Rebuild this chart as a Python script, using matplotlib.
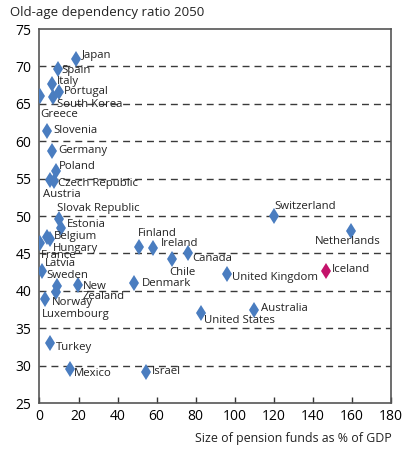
import matplotlib.pyplot as plt

plt.rcParams['font.family'] = ['Open Sans', 'DejaVu Sans']

countries = ['Japan', 'Spain', 'Italy', 'Portugal', 'South Korea', 'Greece', 'Slovenia',
             'Germany', 'Poland', 'Czech Republic', 'Austria', 'Slovak Republic', 'Estonia',
             'Belgium', 'Hungary', 'France', 'Latvia', 'Sweden', 'Norway', 'Luxembourg',
             'New\nZealand', 'Denmark', 'Finland', 'Ireland', 'Canada', 'Chile', 'Switzerland',
             'Netherlands', 'United Kingdom', 'Iceland', 'Australia', 'United States',
             'Turkey', 'Mexico', 'Israel']
pension = [18.9, 9.3, 6.4, 10.0, 6.9, 0.3, 4.0,
           6.4, 8.5, 7.4, 5.5, 10.2, 11.0,
           4.0, 5.4, 0.1, 1.3, 9.1, 8.5, 2.8,
           19.7, 48.5, 51.0, 58.1, 76.2, 68.0, 120.4,
           159.4, 96.0, 146.9, 110.0, 82.8,
           5.2, 15.5, 54.6]
ratio = [71.0, 69.6, 67.7, 66.6, 65.9, 66.1, 61.4,
         58.7, 56.0, 54.7, 54.8, 49.6, 48.4,
         47.2, 46.9, 46.4, 42.6, 40.7, 39.9, 38.9,
         40.8, 41.0, 45.8, 45.7, 45.1, 44.2, 50.0,
         48.0, 42.2, 42.7, 37.5, 37.0,
         33.0, 29.5, 29.1]
highlight = 'Iceland'

# label offsets in pixels (dx, dy up)
offsets = {'Japan': (6, 3), 'Spain': (4, -1), 'Italy': (5, 2), 'Portugal': (5, 0),
           'South Korea': (4, -7), 'Greece': (0, -19), 'Slovenia': (6, 0),
           'Germany': (6, 0), 'Poland': (3, 5), 'Czech Republic': (4, -3),
           'Austria': (-7, -14), 'Slovak Republic': (-2, 11), 'Estonia': (6, 3),
           'Belgium': (7, 0), 'Hungary': (3, -9), 'France': (1, -13), 'Latvia': (3, 8),
           'Sweden': (-11, 10), 'Norway': (-4, -11), 'Luxembourg': (-3, -15),
           'New\nZealand': (5, -7), 'Denmark': (8, 0), 'Finland': (-1, 14),
           'Ireland': (8, 5), 'Canada': (4, -6), 'Chile': (-3, -13),
           'Switzerland': (0, 10), 'Netherlands': (-36, -11), 'United Kingdom': (5, -3),
           'Iceland': (6, 1), 'Australia': (7, 1), 'United States': (3, -7),
           'Turkey': (6, -4), 'Mexico': (4, -4), 'Israel': (6, 1)}

fig = plt.figure(figsize=(4.07, 4.49), dpi=100)
ax = fig.add_axes([0.097, 0.1024, 0.863, 0.8330])

for y in range(30, 75, 5):
    ax.axhline(y, color='#3a3a3a', lw=1, dashes=(5, 3.6), zorder=1)

blue = '#4a7dc0'
for name, x, y in zip(countries, pension, ratio):
    c = '#c4136b' if name == highlight else blue
    ax.plot(x, y, marker='d', ms=8, mew=0, color=c, ls='none', zorder=3)
    dx, dy = offsets[name]
    ax.annotate(name, (x, y), xytext=(dx, dy), textcoords='offset pixels',
                fontsize=8.2, color='#222222', ha='left', va='center',
                linespacing=0.9, zorder=4)

ax.set_xlim(0, 180)
ax.set_ylim(25, 75)
ax.set_xticks(range(0, 181, 20))
ax.set_yticks(range(25, 76, 5))
ax.tick_params(axis='x', direction='in', length=4, width=1, labelsize=10, pad=4, color='#333')
ax.tick_params(axis='y', length=0, labelsize=10, pad=6)
for s in ax.spines.values():
    s.set_color('#555555')
    s.set_linewidth(1.2)

fig.text(0.025, 0.973, 'Old-age dependency ratio 2050', fontsize=9.5, ha='left', va='center', color='#222')
fig.text(0.963, 0.024, 'Size of pension funds as % of GDP', fontsize=8.9, ha='right', va='center', color='#222')

fig.savefig('out.png', dpi=100)
